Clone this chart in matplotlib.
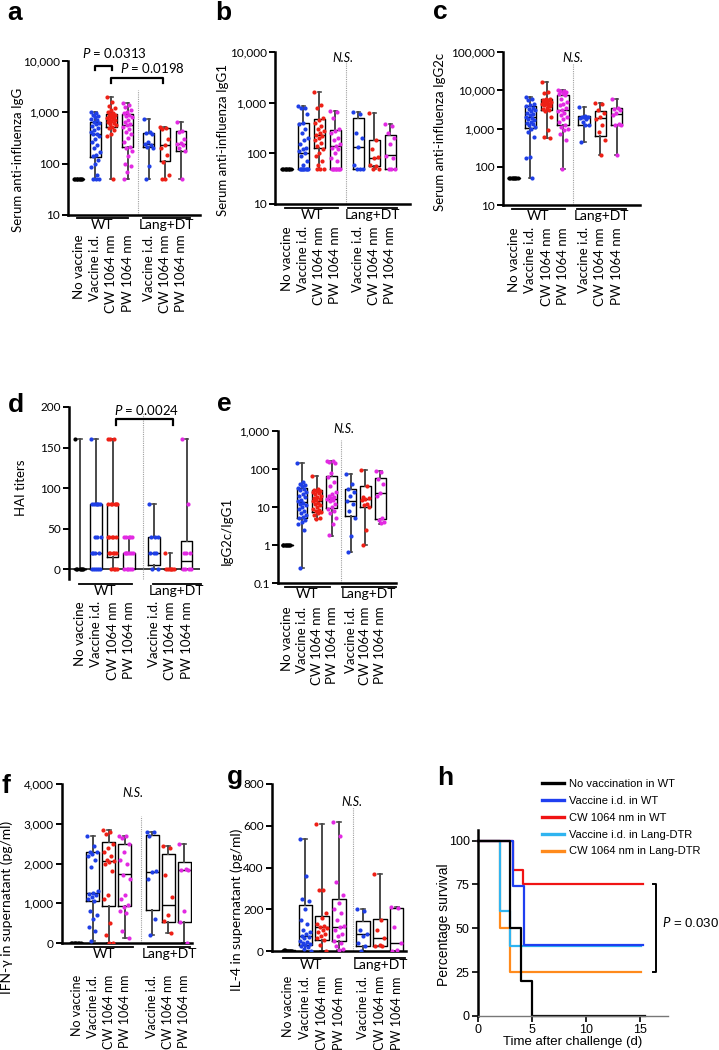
import numpy as np
import matplotlib
matplotlib.use("Agg")
import matplotlib.pyplot as plt
from matplotlib.transforms import ScaledTranslation

plt.rcParams["font.family"] = ["Lato", "DejaVu Sans"]
plt.rcParams["mathtext.fontset"] = "custom"
plt.rcParams["mathtext.it"] = "Lato:italic"
plt.rcParams["mathtext.rm"] = "Lato"

W, H = 719, 1050

groups = ["No vaccine", "Vaccine i.d.", "CW 1064 nm", "PW 1064 nm",
          "Vaccine i.d.", "CW 1064 nm", "PW 1064 nm"]
blocks = ["WT", "Lang+DT"]
BLUE, RED, MAG = "#1f3fe6", "#ee2016", "#e22ae2"
group_colors = ["black", BLUE, RED, MAG, BLUE, RED, MAG]

# ---- a: serum IgG ----
a_lo = [50, 50, 50, 50, 50, 50, 50]
a_q1 = [50, 137, 509, 208, 208, 113, 179]
a_med = [50, 378, 709, 566, 238, 231, 241]
a_q3 = [50, 657, 928, 928, 402, 488, 440]
a_hi = [50, 1000, 2000, 1540, 730, 510, 660]
a_pts = [
    [50] * 8,
    [1000, 950, 900, 850, 800, 750, 700, 650, 620, 600, 550, 500, 450, 420, 380, 370, 340,
     300, 260, 230, 200, 170, 150, 140, 120, 100, 85, 60, 50, 50, 50],
    [2000, 1600, 1300, 1200, 1100, 1000, 950, 920, 900, 880, 850, 820, 800, 780, 750, 720,
     700, 680, 650, 620, 600, 560, 520, 500, 450, 380, 350, 50],
    [1550, 1400, 1250, 1100, 1000, 950, 900, 850, 800, 700, 650, 600, 560, 520, 480, 420,
     380, 320, 260, 210, 200, 180, 140, 100, 90, 70, 50],
    [730, 420, 400, 380, 260, 240, 230, 210, 200, 90, 50],
    [510, 500, 480, 300, 230, 200, 150, 110, 60, 50, 50],
    [660, 440, 420, 300, 250, 240, 230, 200, 180, 50],
]

# ---- b: serum IgG1 ----
b_lo = [50, 50, 50, 50, 50, 50, 50]
b_q1 = [50, 50, 125, 50, 50, 57, 50]
b_med = [50, 102, 228, 139, 135, 82, 91]
b_q3 = [50, 400, 486, 295, 509, 182, 235]
b_hi = [50, 850, 1600, 680, 660, 630, 380]
b_pts = [
    [50] * 8,
    [850, 800, 780, 600, 400, 380, 300, 250, 200, 180, 150, 130, 120, 110, 100, 90, 70, 60,
     50, 50, 50, 50, 50, 50, 50, 50],
    [1600, 900, 800, 500, 450, 400, 350, 300, 280, 250, 230, 220, 200, 180, 160, 140, 120,
     100, 90, 70, 60, 50, 50, 50],
    [680, 650, 500, 300, 280, 250, 200, 180, 150, 140, 130, 120, 100, 80, 70, 50, 50, 50,
     50, 50, 50, 50, 50],
    [660, 600, 250, 200, 135, 60, 50, 50, 50],
    [630, 180, 120, 85, 80, 60, 55, 50, 50],
    [380, 350, 250, 200, 150, 90, 80, 50, 50, 50],
]

# ---- c: serum IgG2c ----
c_lo = [50, 50, 560, 90, 440, 207, 200]
c_q1 = [50, 1040, 3060, 1200, 1245, 631, 1250]
c_med = [50, 1970, 4380, 3060, 1950, 1890, 2410]
c_q3 = [50, 3980, 5900, 7640, 2090, 2940, 3370]
c_hi = [50, 6780, 16600, 10100, 3580, 4550, 5900]
c_pts = [
    [50] * 8,
    [6700, 6000, 5500, 4500, 4000, 3800, 3500, 3200, 3000, 2800, 2600, 2400, 2200, 2000,
     1900, 1800, 1700, 1500, 1400, 1300, 1200, 1100, 1000, 800, 600, 180, 170, 50],
    [16600, 9000, 8500, 6000, 5800, 5600, 5400, 5200, 5000, 4800, 4600, 4500, 4400, 4300,
     4200, 4000, 3800, 3500, 3200, 3000, 2800, 2000, 900, 600, 560],
    [10100, 9800, 9500, 9000, 8500, 8000, 7500, 6000, 5000, 4500, 4000, 3500, 3000, 2800,
     2500, 2200, 2000, 1800, 1500, 1200, 1100, 1000, 900, 700, 500, 90],
    [3580, 2100, 2050, 2000, 1950, 1900, 1800, 1500, 1250, 1200, 440],
    [4550, 4400, 3000, 2500, 2000, 1800, 1200, 800, 500, 207],
    [5900, 3400, 3300, 3000, 2500, 2300, 1300, 1250, 1200, 200],
]

# ---- d: HAI titers ----
d_lo = [0, 0, 0, 0, 0, 0, 0]
d_q1 = [0, 0, 15, 0, 5, 0, 0]
d_med = [0, 20, 40, 20, 20, 0, 10]
d_q3 = [0, 80, 80, 20, 40, 0, 35]
d_hi = [160, 160, 160, 40, 80, 20, 160]
d_pts = [
    [160, 0, 0, 0, 0, 0, 0],
    [160, 80, 80, 80, 80, 80, 80, 40, 40, 40, 20, 20, 20, 20, 0, 0, 0, 0, 0],
    [160, 160, 160, 80, 80, 80, 80, 80, 80, 40, 40, 40, 40, 40, 20, 20, 20, 20, 20, 0, 0, 0, 0],
    [40, 40, 40, 40, 40, 20, 20, 20, 20, 20, 20, 0, 0, 0, 0, 0],
    [80, 40, 40, 40, 20, 20, 20, 0, 0],
    [20, 0, 0, 0, 0, 0, 0],
    [160, 80, 20, 20, 20, 0, 0, 0, 0],
]

# ---- e: IgG2c / IgG1 ----
e_lo = [1, 0.254, 4.7, 1.74, 0.66, 1.0, 3.66]
e_q1 = [1, 5.25, 7.4, 9.6, 5.7, 10, 4.7]
e_med = [1, 13.5, 14.4, 16.6, 14.1, 16.3, 24]
e_q3 = [1, 32.4, 28.6, 65.5, 29.8, 36.6, 57]
e_hi = [1, 147, 65, 165, 76, 95, 87]
e_pts = [
    [1] * 8,
    [147, 45, 40, 38, 35, 32, 30, 28, 25, 22, 20, 18, 15, 14, 13, 12, 11, 10, 9, 8, 7, 6,
     5.5, 5, 4.5, 4, 3.5, 2.5, 0.25],
    [65, 30, 28, 27, 26, 25, 24, 22, 20, 18, 17, 16, 15, 14, 13, 12, 11, 10, 9, 8.5, 8, 7.5,
     7, 6, 5, 4.7],
    [165, 160, 150, 140, 80, 60, 45, 35, 25, 22, 20, 18, 17, 16, 15, 14, 12, 10, 9, 8, 7, 5,
     3.5, 1.8],
    [76, 40, 30, 25, 20, 14, 12, 8, 5, 1.7, 0.66],
    [95, 35, 18, 17, 16, 15, 12, 11, 10, 2.5, 1.0],
    [87, 85, 55, 40, 24, 20, 5, 4.5, 4, 3.7],
]

# ---- f: IFN-gamma ----
f_lo = [0, 60, 0, 130, 190, 240, 0]
f_q1 = [0, 1060, 940, 930, 820, 540, 540]
f_med = [0, 1270, 2060, 1730, 1780, 950, 1840]
f_q3 = [0, 2290, 2530, 2500, 2720, 2230, 2050]
f_hi = [0, 2700, 2840, 2700, 2800, 2430, 2500]
f_pts = [
    [0] * 8,
    [2700, 2450, 2300, 2280, 2250, 2200, 2100, 1900, 1300, 1250, 1230, 1200, 1150, 1100,
     1050, 800, 700, 600, 400, 300, 60],
    [2840, 2800, 2750, 2500, 2400, 2300, 2200, 2100, 2060, 2050, 2000, 1800, 1200, 1100,
     500, 200, 0, 0],
    [2700, 2680, 2650, 2500, 2300, 2100, 2000, 1700, 1600, 1200, 1100, 950, 900, 800, 750,
     300, 130],
    [2800, 2780, 2700, 1800, 1780, 1600, 600, 190],
    [2430, 2400, 1700, 1150, 700, 550, 240],
    [2500, 1850, 1840, 1830, 800, 540, 0],
]

# ---- g: IL-4 ----
g_lo = [0, 0, 0, 5, 0, 25, 0]
g_q1 = [0, 30, 55, 50, 25, 25, 0]
g_med = [2, 70, 115, 115, 80, 60, 40]
g_q3 = [4, 220, 170, 250, 145, 155, 205]
g_hi = [4, 535, 610, 620, 200, 370, 210]
g_pts = [
    [0, 2, 4, 0, 2, 4, 0, 2],
    [535, 360, 250, 240, 200, 150, 130, 100, 90, 80, 70, 65, 60, 50, 45, 40, 35, 30, 25,
     20, 10, 0],
    [610, 290, 290, 180, 160, 130, 120, 115, 110, 100, 90, 80, 70, 60, 55, 30, 0],
    [620, 550, 330, 270, 230, 200, 180, 150, 120, 115, 100, 80, 70, 50, 40, 25, 10, 5],
    [200, 190, 100, 80, 70, 40, 25, 0],
    [370, 150, 100, 60, 30, 25, 25],
    [210, 205, 115, 40, 5, 0],
]

# ---- h: survival ----
surv_labels = ["No vaccination in WT", "Vaccine i.d. in WT", "CW 1064 nm in WT",
               "Vaccine i.d. in Lang-DTR", "CW 1064 nm in Lang-DTR"]
surv_colors = ["black", "#1f3ff0", "#f01414", "#2fb4f0", "#ff8a1c"]
surv_days = [[0, 3, 4, 5, 15.5], [0, 3.25, 4.25, 15.3], [0, 3.2, 4.2, 15.3],
             [0, 2, 3, 15.1], [0, 2, 3, 15.1]]
surv_pct = [[100, 50, 20, 0, 0], [100, 74, 40.6, 40.6], [100, 83, 75, 75],
            [100, 60, 40, 40], [100, 50, 25, 25]]

fig = plt.figure(figsize=(W / 100, H / 100), dpi=100)


def px_rect(l, t, r, b):
    return [l / W, 1 - b / H, (r - l) / W, (b - t) / H]


def box_panel(rect, gap, xlim, lo, q1, med, q3, hi, pts, width, log, ylim,
              yticks, yticklabels, ylabel, ylab_xy, ylab_size, lab_pad,
              spans, line_dy, sep_x, sep_top, cat_size=9.5):
    ax = fig.add_axes(rect)
    pos = [0, 1, 2, 3, 3 + gap, 4 + gap, 5 + gap]
    if log:
        ax.set_yscale("log")
    stats = [dict(whislo=lo[i], q1=q1[i], med=med[i], q3=q3[i], whishi=hi[i])
             for i in range(7)]
    ax.bxp(stats, positions=pos, widths=width, showfliers=False, capwidths=width * 0.3,
           boxprops=dict(color="black", lw=1.0),
           whiskerprops=dict(color="#4a4a4a", lw=1.4),
           capprops=dict(color="#4a4a4a", lw=1.2),
           medianprops=dict(color="black", lw=1.0), manage_ticks=False)
    for i in range(7):
        v = np.asarray(pts[i], float)
        off = ((np.arange(len(v)) * 0.618034) % 1 - 0.5) * width * 0.85
        ax.scatter(pos[i] + off, v, s=9, color=group_colors[i], zorder=3, linewidths=0)
    ax.set_xlim(*xlim)
    ax.set_ylim(*ylim)
    ax.set_yticks(yticks, yticklabels)
    ax.minorticks_off()
    for s in ["top", "right"]:
        ax.spines[s].set_visible(False)
    ax.spines["left"].set_linewidth(1.8)
    ax.spines["bottom"].set_linewidth(1.8)
    ax.tick_params(axis="y", length=4, width=1.4, labelsize=8.5, pad=2)
    ax.set_xticks(pos, groups, rotation=90, fontsize=cat_size)
    ax.tick_params(axis="x", length=0, pad=lab_pad)
    ax.set_ylabel(ylabel, fontsize=ylab_size)
    ax.yaxis.set_label_coords(*ylab_xy)
    # group underlines
    tr = ax.get_xaxis_transform() + ScaledTranslation(0, -line_dy / 100, fig.dpi_scale_trans)
    tr2 = ax.get_xaxis_transform() + ScaledTranslation(0, -(line_dy + 1) / 100, fig.dpi_scale_trans)
    for (x1, x2), name in zip(spans, blocks):
        ax.plot([x1, x2], [0, 0], transform=tr, color="black", lw=1.3, clip_on=False)
        ax.text((x1 + x2) / 2, 0, name, transform=tr2, ha="center", va="top", fontsize=10)
    ax.plot([sep_x, sep_x], [0, sep_top], transform=ax.get_xaxis_transform(),
            color="#a0a0a0", lw=0.8, ls=(0, (1, 1)), clip_on=False)
    return ax


def bracket(ax, x1, x2, y, leg, lw=1.6):
    tr = ax.get_xaxis_transform()
    ax.plot([x1, x1, x2, x2], [leg, y, y, leg], transform=tr, color="black", lw=lw,
            clip_on=False)


def ns(ax, x, y):
    ax.text(x, y, "N.S.", transform=ax.get_xaxis_transform(), ha="center", va="center",
            fontsize=9, fontstyle="italic")


log_ticks4 = [10, 100, 1000, 10000]
log_lab4 = ["10", "100", "1,000", "10,000"]

ax_a = box_panel(px_rect(68, 61, 200, 215), 1.3, (-0.68, 7.47), a_lo, a_q1, a_med, a_q3,
                 a_hi, a_pts, 0.66, True, (10, 10000), log_ticks4, log_lab4,
                 "Serum anti-influenza IgG", (-0.333, 0.357), 9.5, 14,
                 [(-0.12, 3.02), (3.95, 6.85)], 3, 3.64, 0.81)
bracket(ax_a, 1.0, 2.05, 0.9695, 0.9416)
bracket(ax_a, 2.0, 5.2, 0.888, 0.859)
ax_a.text(2.19, 1.052, "$P$ = 0.0313", transform=ax_a.get_xaxis_transform(),
          ha="center", va="center", fontsize=9.5)
ax_a.text(4.54, 0.953, "$P$ = 0.0198", transform=ax_a.get_xaxis_transform(),
          ha="center", va="center", fontsize=9.5)

ax_b = box_panel(px_rect(275, 52, 410, 204), 1.43, (-0.77, 7.65), b_lo, b_q1, b_med, b_q3,
                 b_hi, b_pts, 0.73, True, (10, 10000), log_ticks4, log_lab4,
                 "Serum anti-influenza IgG1", (-0.341, 0.42), 9.5, 16,
                 [(-0.14, 3.18), (3.8, 6.82)], 4, 3.66, 0.95)
ns(ax_b, 3.47, 0.959)

ax_c = box_panel(px_rect(503, 52, 640, 205), 1.33, (-0.70, 7.78), c_lo, c_q1, c_med, c_q3,
                 c_hi, c_pts, 0.72, True, (10, 100000), [10, 100, 1000, 10000, 100000],
                 ["10", "100", "1,000", "10,000", "100,000"],
                 "Serum anti-influenza IgG2c", (-0.416, 0.477), 9.5, 16,
                 [(-0.16, 3.15), (3.86, 6.92)], 4, 3.64, 0.93)
ns(ax_c, 3.61, 0.959)

ax_d = box_panel(px_rect(69, 407, 200, 579), 1.54, (-0.67, 7.36), d_lo, d_q1, d_med, d_q3,
                 d_hi, d_pts, 0.72, False, (-12.3, 200), [0, 50, 100, 150, 200],
                 ["0", "50", "100", "150", "200"],
                 "HAI titers", (-0.32, 0.53), 9.5, 16,
                 [(-0.04, 3.17), (4.5, 7.4)], 5, 3.85, 0.965)
ax_d.spines["bottom"].set_visible(False)
ax_d.axhline(0, color="#333333", lw=1.3, zorder=1)
bracket(ax_d, 2.2, 5.72, 0.928, 0.895)
ax_d.text(4.11, 0.983, "$P$ = 0.0024", transform=ax_d.get_xaxis_transform(),
          ha="center", va="center", fontsize=9.5)

ax_e = box_panel(px_rect(278, 431, 396, 583), 1.28, (-0.62, 7.34), e_lo, e_q1, e_med, e_q3,
                 e_hi, e_pts, 0.72, True, (0.1, 1000), [0.1, 1, 10, 100, 1000],
                 ["0.1", "1", "10", "100", "1,000"],
                 "IgG2c/IgG1", (-0.38, 0.34), 9.5, 17,
                 [(-0.15, 2.89), (3.68, 7.33)], 4, 3.64, 0.94)
ns(ax_e, 3.8, 1.011)

ax_f = box_panel(px_rect(62, 784, 192, 943), 1.72, (-0.92, 7.2), f_lo, f_q1, f_med, f_q3,
                 f_hi, f_pts, 0.8, False, (0, 4000), [0, 1000, 2000, 3000, 4000],
                 ["0", "1,000", "2,000", "3,000", "4,000"],
                 "IFN-γ in supernatant (pg/ml)", (-0.377, 0.226), 10, 23,
                 [(-0.1, 3.54), (4.48, 7.08)], 4, 4.02, 0.8, cat_size=9.0)
ns(ax_f, 3.52, 0.945)

ax_g = box_panel(px_rect(272, 784, 406, 951), 1.42, (-0.96, 6.96), g_lo, g_q1, g_med, g_q3,
                 g_hi, g_pts, 0.78, False, (0, 800), [0, 200, 400, 600, 800],
                 ["0", "200", "400", "600", "800"],
                 "IL-4 in supernatant (pg/ml)", (-0.216, 0.245), 10, 18,
                 [(-0.3, 3.06), (3.95, 6.9)], 7, 3.83, 0.86, cat_size=9.0)
ns(ax_g, 3.75, 0.894)

# ---- h ----
arial = ["Liberation Sans", "DejaVu Sans"]
ax_h = fig.add_axes(px_rect(478, 830, 668, 1016))
order = [4, 3, 2, 1, 0]
handles = [None] * 5
for i in order:
    (ln,) = ax_h.step(surv_days[i], surv_pct[i], where="post", color=surv_colors[i],
                      lw=1.6, label=surv_labels[i], clip_on=False)
    handles[i] = ln
ax_h.set_xlim(0, 17.6)
ax_h.set_ylim(0, 106)
ax_h.set_xticks([0, 5, 10, 15])
ax_h.set_yticks([0, 25, 50, 75, 100])
for s in ["top", "right"]:
    ax_h.spines[s].set_visible(False)
ax_h.spines["left"].set_linewidth(1.8)
ax_h.spines["bottom"].set_linewidth(1.0)
ax_h.spines["bottom"].set_color("#777777")
ax_h.tick_params(length=4, width=1.2, labelsize=9, pad=2)
for t in ax_h.get_xticklabels() + ax_h.get_yticklabels():
    t.set_family(arial)
ax_h.set_xlabel("Time after challenge (d)", fontsize=9.5, family=arial, labelpad=0)
ax_h.set_ylabel("Percentage survival", fontsize=10, family=arial)
ax_h.yaxis.set_label_coords(-0.142, 0.49)
ax_h.legend(handles=handles, labels=surv_labels, loc="upper left",
            bbox_to_anchor=(0.337, 1.275), frameon=False, borderpad=0, borderaxespad=0,
            handlelength=2.0, handletextpad=0.45, labelspacing=0.62,
            prop=dict(family=arial, size=8))
for ln in ax_h.get_legend().get_lines():
    ln.set_linewidth(2.4)
ax_h.plot([16.2, 16.5, 16.5, 16.2], [75.5, 75.5, 25, 25], color="black", lw=1.4,
          clip_on=False)
fig.text(661.7 / W, 1 - 922.7 / H, "$P$ = 0.030", ha="left", va="center", fontsize=9.5,
         family=arial)

# panel letters
for lab, x, y in [("a", 7, 20), ("b", 215, 20), ("c", 433, 19), ("d", 8, 412),
                  ("e", 217, 411), ("f", 1, 793), ("g", 227, 784), ("h", 437, 785)]:
    fig.text(x / W, 1 - y / H, lab, ha="left", va="baseline", fontsize=19,
             fontweight="bold", family=arial)

fig.savefig("out.png", dpi=100)
